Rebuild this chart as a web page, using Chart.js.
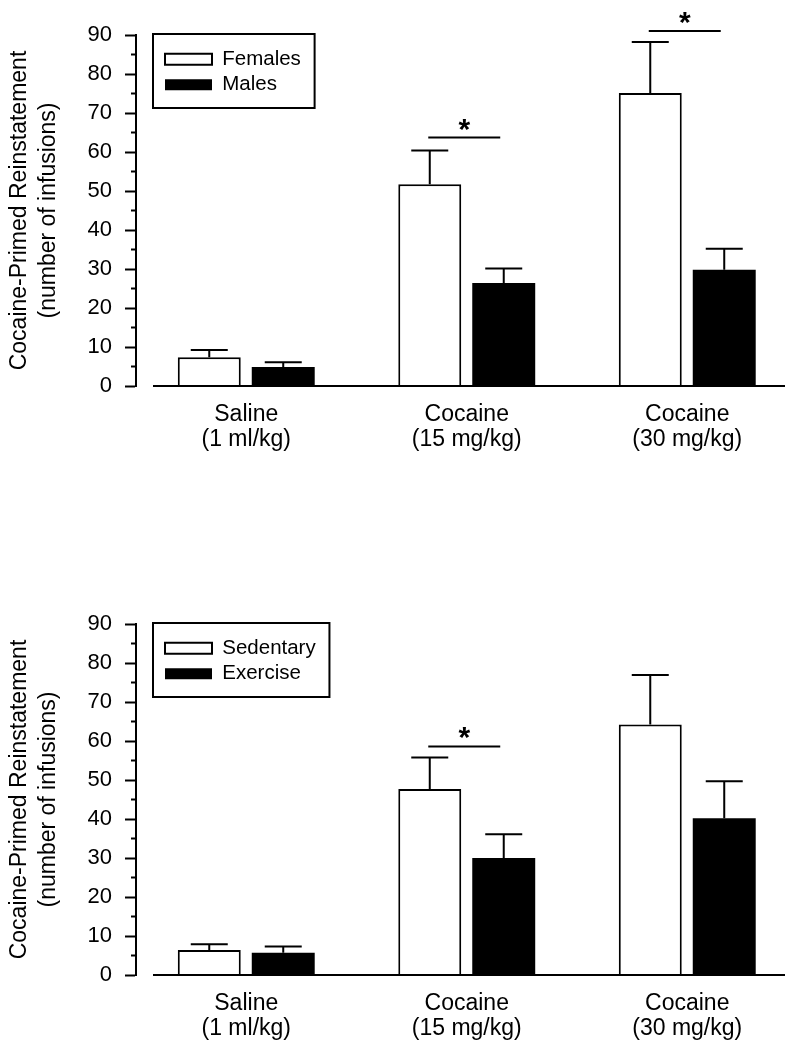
<!DOCTYPE html>
<html>
<head>
<meta charset="utf-8">
<title>Cocaine-primed reinstatement</title>
<script src="https://cdn.jsdelivr.net/npm/chart.js@4.4.1/dist/chart.umd.min.js"></script>
<style>
    html, body { margin: 0; padding: 0; background: #fff; width: 785px; height: 1050px; overflow: hidden; }
    .panel { width: 800px; height: 525px; }
    canvas { display: block; }
</style>
</head>
<body>
<div class="panel"><canvas id="sexChart" width="800" height="525"></canvas></div>
<div class="panel"><canvas id="exerciseChart" width="800" height="525"></canvas></div>
<script>
// Data
const doseLabels = [['Saline', '(1 ml/kg)'], ['Cocaine', '(15 mg/kg)'], ['Cocaine', '(30 mg/kg)']];
const yTitle = ['Cocaine-Primed Reinstatement', '(number of infusions)'];
const yMin = 0;
const yMax = 90;
const yStep = 10;

// Top panel: females vs males
const femalesMean = [7.4, 51.7, 75.1];
const femalesSem = [1.8, 8.7, 13.1];
const malesMean = [4.9, 26.4, 29.8];
const malesSem = [1.2, 3.7, 5.4];
const sexSigGroups = [1, 2];
const sexSigLevels = [63.7, 91.0];

// Bottom panel: sedentary vs exercise
const sedentaryMean = [6.4, 47.7, 64.2];
const sedentarySem = [1.5, 8.1, 12.7];
const exerciseMean = [5.7, 30.0, 40.2];
const exerciseSem = [1.6, 6.1, 9.5];
const exSigGroups = [1];
const exSigLevels = [58.6];

const FONT = "'Liberation Sans', Arial, sans-serif";
Chart.defaults.font.family = FONT;
Chart.defaults.color = '#000';

// Error bars, significance marks, minor ticks, detached x axis and legend frame
const figureExtras = {
    id: 'figureExtras',
    afterLayout(chart) {
        const lg = chart.legend;
        const area = chart.chartArea;
        lg.left = area.left + 24;
        lg.top = area.top + 9;
        lg.right = lg.left + 260;
        lg.bottom = lg.top + 80;
    },
    afterDatasetsDraw(chart, args, opts) {
        const ctx = chart.ctx;
        const y = chart.scales.y;
        ctx.save();
        ctx.strokeStyle = '#000';
        ctx.lineWidth = 2;
        chart.data.datasets.forEach((ds, i) => {
            const meta = chart.getDatasetMeta(i);
            meta.data.forEach((bar, j) => {
                const top = y.getPixelForValue(ds.data[j] + ds.errors[j]);
                ctx.beginPath();
                ctx.moveTo(bar.x, bar.y);
                ctx.lineTo(bar.x, top);
                ctx.moveTo(bar.x - 18.5, top);
                ctx.lineTo(bar.x + 18.5, top);
                ctx.stroke();
            });
        });

        // significance lines with asterisks
        const groups = opts.groups || [];
        groups.forEach((g, k) => {
            const a = chart.getDatasetMeta(0).data[g];
            const b = chart.getDatasetMeta(1).data[g];
            const ly = y.getPixelForValue(opts.levels[k]);
            const x1 = a.x - 1.5;
            const x2 = b.x - 3.5;
            ctx.beginPath();
            ctx.moveTo(x1, ly);
            ctx.lineTo(x2, ly);
            ctx.stroke();
            ctx.fillStyle = '#000';
            ctx.font = 'bold 30px ' + FONT;
            ctx.textAlign = 'center';
            ctx.textBaseline = 'alphabetic';
            ctx.fillText('*', (x1 + x2) / 2, ly + 1);
        });
        ctx.restore();
    },
    afterDraw(chart) {
        const ctx = chart.ctx;
        const y = chart.scales.y;
        const area = chart.chartArea;
        ctx.save();
        ctx.strokeStyle = '#000';
        ctx.lineWidth = 2;

        // x axis line, starting a little right of the y axis
        const y0 = y.getPixelForValue(0);
        ctx.beginPath();
        ctx.moveTo(area.left + 17, y0);
        ctx.lineTo(chart.width, y0);
        ctx.stroke();

        // minor ticks halfway between the labelled ones
        for (let v = yMin + yStep / 2; v < yMax; v += yStep) {
            const py = y.getPixelForValue(v);
            ctx.beginPath();
            ctx.moveTo(area.left - 5, py);
            ctx.lineTo(area.left, py);
            ctx.stroke();
        }

        // legend frame
        const lg = chart.legend;
        ctx.font = '20.5px ' + FONT;
        const textW = Math.max(...chart.data.datasets.map(ds => ctx.measureText(ds.label).width));
        const left = lg.left - 7;
        const right = lg.left + 5 + 47 + 10 + textW + 14;
        ctx.strokeRect(left, lg.top - 10, right - left, 74);
        ctx.restore();
    }
};

function buildChart(canvasId, series, sigGroups, sigLevels, topPad) {
    const ctx = document.getElementById(canvasId);
    const bottomPad = 525 - topPad - 351 - 100;

    return new Chart(ctx, {
        type: 'bar',
        data: {
            labels: doseLabels,
            datasets: series.map(s => ({
                label: s.label,
                data: s.means,
                errors: s.errors,
                backgroundColor: s.fill,
                borderColor: '#000',
                borderWidth: s.fill === '#000' ? 0 : 2,
                categoryPercentage: 0.671,
                barPercentage: 0.851
            }))
        },
        options: {
            responsive: false,
            animation: false,
            layout: {
                padding: { left: 0, right: 2.5, top: topPad, bottom: bottomPad }
            },
            plugins: {
                legend: {
                    position: 'chartArea',
                    align: 'start',
                    labels: {
                        boxWidth: 47,
                        boxHeight: 11,
                        padding: 5,
                        color: '#000',
                        font: { size: 20.5 }
                    }
                },
                tooltip: { enabled: false },
                figureExtras: { groups: sigGroups, levels: sigLevels }
            },
            scales: {
                x: {
                    grid: { display: false, drawTicks: false },
                    border: { display: false },
                    ticks: {
                        autoSkip: false,
                        maxRotation: 0,
                        padding: 16,
                        color: '#000',
                        font: { size: 23, lineHeight: 25 / 23 }
                    },
                    afterFit: scale => { scale.height = 100; }
                },
                y: {
                    min: yMin,
                    max: yMax,
                    ticks: {
                        stepSize: yStep,
                        padding: 13,
                        color: '#000',
                        font: { size: 22 }
                    },
                    grid: {
                        drawOnChartArea: false,
                        tickLength: 11,
                        tickWidth: 2,
                        tickColor: '#000'
                    },
                    border: { color: '#000', width: 2 },
                    title: {
                        display: true,
                        text: yTitle,
                        color: '#000',
                        font: { size: 23, lineHeight: 29 / 23 },
                        padding: { top: 5, bottom: 0 }
                    },
                    afterFit: scale => { scale.width = 136; }
                }
            }
        },
        plugins: [figureExtras]
    });
}

buildChart('sexChart', [
    { label: 'Females', means: femalesMean, errors: femalesSem, fill: '#fff' },
    { label: 'Males', means: malesMean, errors: malesSem, fill: '#000' }
], sexSigGroups, sexSigLevels, 35);

buildChart('exerciseChart', [
    { label: 'Sedentary', means: sedentaryMean, errors: sedentarySem, fill: '#fff' },
    { label: 'Exercise', means: exerciseMean, errors: exerciseSem, fill: '#000' }
], exSigGroups, exSigLevels, 99);
</script>
</body>
</html>
